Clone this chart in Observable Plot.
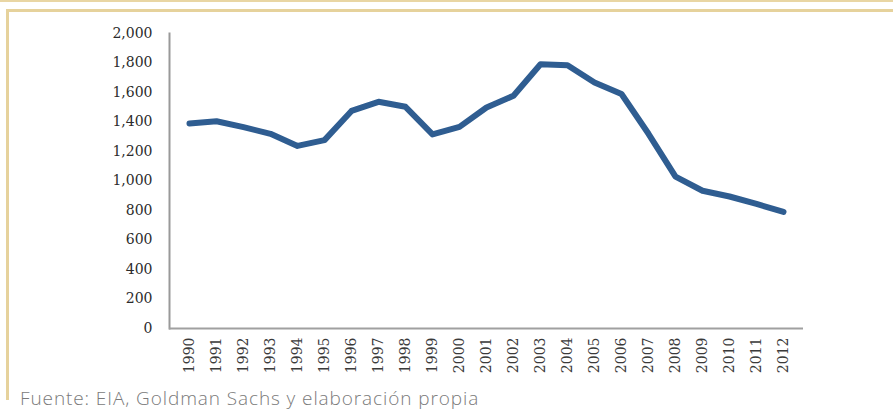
<!DOCTYPE html>
<html>
<head>
<meta charset="utf-8">
<script src="https://cdn.jsdelivr.net/npm/d3@7"></script>
<script src="https://cdn.jsdelivr.net/npm/@observablehq/plot@0.6"></script>
<style>
  html, body { margin: 0; padding: 0; background: #fff; }
  #wrap { position: relative; width: 893px; height: 412px; overflow: hidden; background: #fff; }
  .topline { position: absolute; left: 0; top: 0; width: 893px; height: 2px; background: #e9d6a4; }
  .boxtop { position: absolute; left: 6px; top: 9px; width: 887px; height: 3px; background: #e6d29c; }
  .boxleft { position: absolute; left: 6px; top: 9px; width: 3px; height: 391px; background: #e6d29c; }
  #chart { position: absolute; left: 0; top: 0; }
  .caption { position: absolute; left: 20px; top: 387px; font-family: "Open Sans", Lato, sans-serif; font-weight: 300; font-size: 19px; letter-spacing: 0.9px; color: #7a7a7a; line-height: 22px; white-space: nowrap; }
</style>
</head>
<body>
<div id="wrap">
  <div class="topline"></div>
  <div class="boxtop"></div>
  <div class="boxleft"></div>
  <div id="chart"></div>
  <div class="caption" id="caption"></div>
</div>
<script>
const years = ["1990","1991","1992","1993","1994","1995","1996","1997","1998","1999","2000","2001","2002","2003","2004","2005","2006","2007","2008","2009","2010","2011","2012"];
const values = [1390, 1405, 1365, 1320, 1238, 1277, 1475, 1537, 1503, 1316, 1367, 1498, 1578, 1792, 1785, 1668, 1590, 1320, 1030, 934, 895, 845, 790];
const yTicks = [0, 200, 400, 600, 800, 1000, 1200, 1400, 1600, 1800, 2000];
const captionText = "Fuente: EIA, Goldman Sachs y elaboración propia";

const data = years.map((y, i) => ({year: y, value: values[i]}));

const chart = Plot.plot({
  width: 893,
  height: 380,
  marginLeft: 169,
  marginRight: 90,
  marginTop: 33,
  marginBottom: 52,
  style: { fontFamily: "DejaVu Serif", fontSize: "14px", color: "#333", background: "transparent" },
  x: { type: "point", domain: years, padding: 0.5, label: null },
  y: { domain: [0, 2000], label: null },
  marks: [
    Plot.axisY({ ticks: yTicks, tickSize: 0, tickPadding: 17, tickFormat: d3.format(","), fill: "#2b2b2b", label: null }),
    Plot.axisX({ tickSize: 0, tickPadding: 9, tickRotate: -90, fill: "#3a3a3a", label: null }),
    Plot.frame({ anchor: "left", stroke: "#999", strokeWidth: 2 }),
    Plot.ruleY([0], { stroke: "#a0a0a0", strokeWidth: 2 }),
    Plot.line(data, { x: "year", y: "value", stroke: "#2f5d91", strokeWidth: 6, strokeLinejoin: "round", strokeLinecap: "round" })
  ]
});
document.getElementById("chart").appendChild(chart);
document.getElementById("caption").textContent = captionText;
</script>
</body>
</html>
